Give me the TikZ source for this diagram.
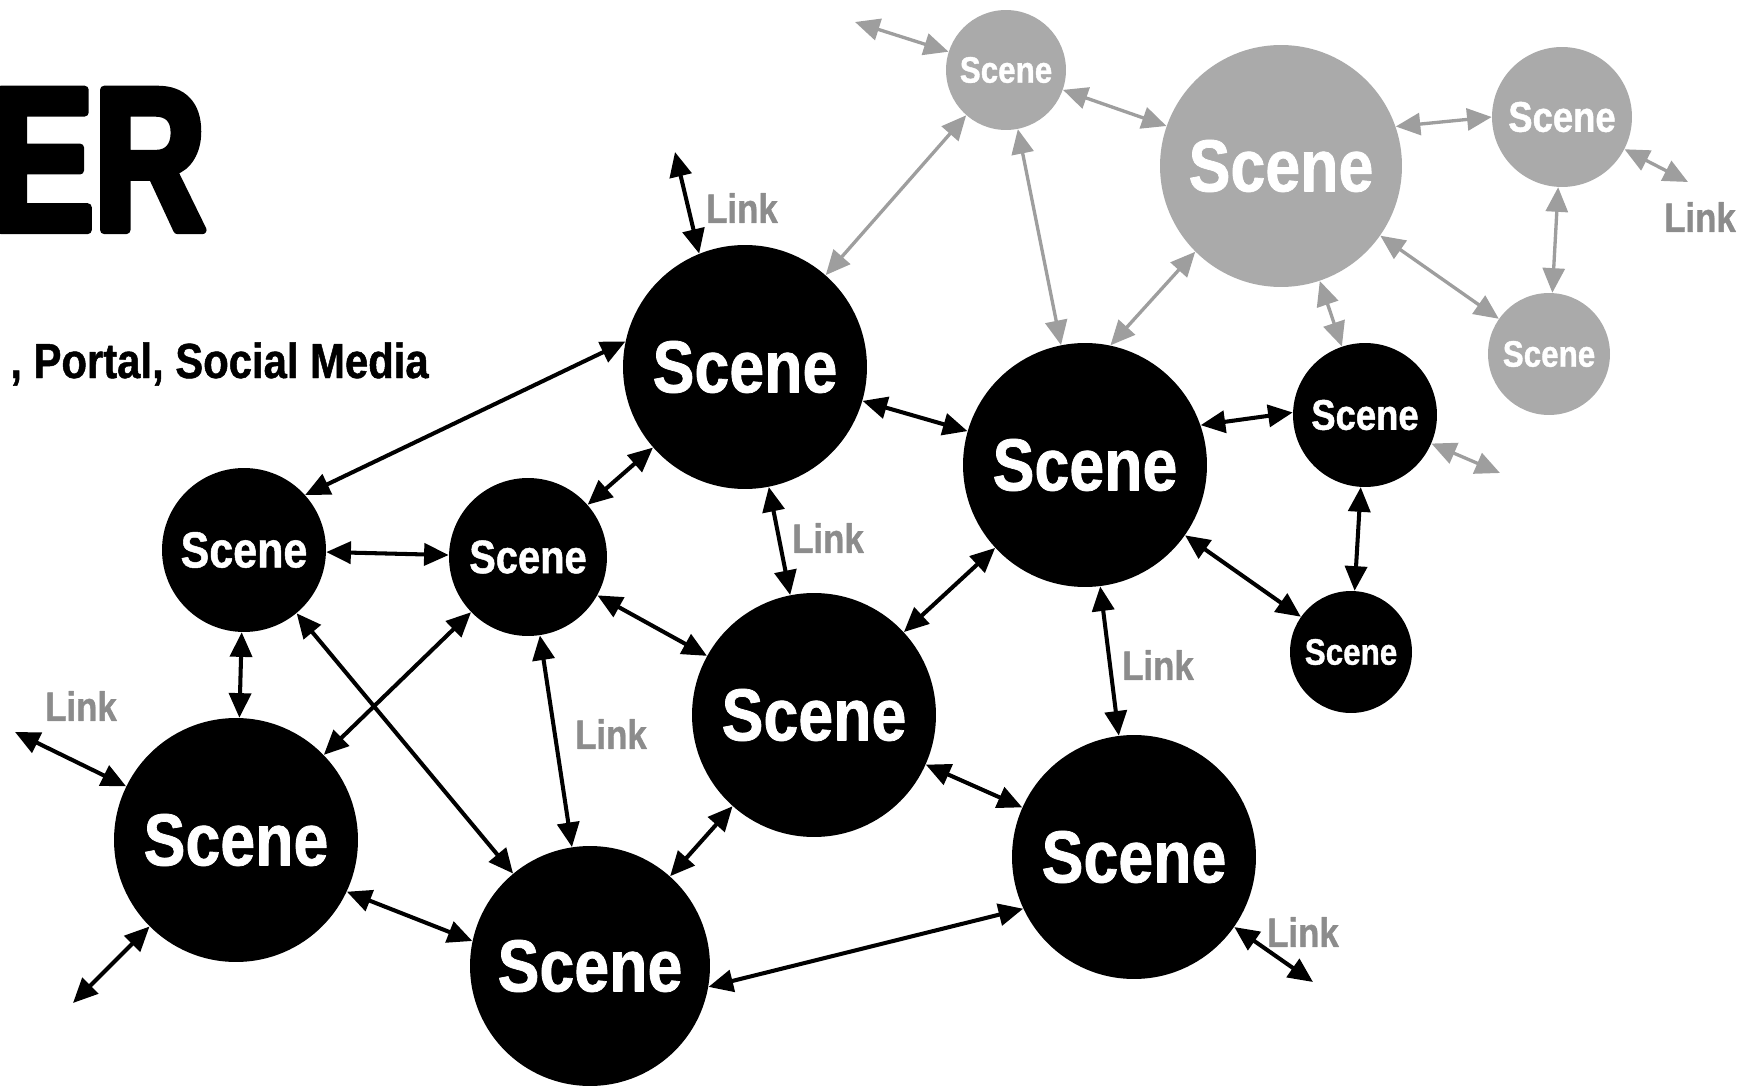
\documentclass[tikz,border=0pt]{standalone}
\usepackage{fontspec}
\usepackage{xcolor}
\usepackage{tikz}
\usetikzlibrary{arrows.meta}
\newfontfamily\scn[FakeStretch=0.85,FakeBold=1]{Liberation Sans Bold}
\newfontfamily\ttl[FakeStretch=0.76,FakeBold=4]{Liberation Sans Bold}
\definecolor{lgray}{RGB}{170,170,170}
\definecolor{agray}{RGB}{158,158,158}
\definecolor{tgray}{RGB}{140,140,140}

\begin{document}
\begin{tikzpicture}[x=0.02cm,y=-0.02cm,line cap=round,line join=round,
  >={Triangle[length=14pt,width=12.5pt]},
  sc/.style 2 args={circle,fill=black,text=white,inner sep=0pt,minimum size=#1,font=\scn\fontsize{#2}{#2}\selectfont},
  gsc/.style 2 args={sc={#1}{#2},fill=lgray},
  lk/.style={<->,line width=2.3pt},
  glk/.style={<->,line width=1.9pt,color=agray},
  lbl/.style={inner sep=0pt,text=tgray,font=\scn\fontsize{23.3}{24}\selectfont}]
\useasboundingbox (0,0) rectangle (1742,1091);

\node[anchor=base east,inner sep=0pt,font=\ttl\fontsize{116}{116}\selectfont] (T) at (206,230) {ER};
\node[anchor=base east,inner sep=0pt,font=\scn\fontsize{28}{30}\selectfont] (U) at (429,378) {, Portal, Social Media};

% black scenes
\node[sc={3.28cm}{28.8}] (A) at (244,550) {Scene};
\node[sc={3.16cm}{26.7}] (B) at (528,557) {Scene};
\node[sc={4.88cm}{42}] (C) at (745,367) {Scene};
\node[sc={4.88cm}{42}] (D) at (814,715) {Scene};
\node[sc={4.88cm}{42}] (E) at (236,840) {Scene};
\node[sc={4.80cm}{42}] (F) at (590,966) {Scene};
\node[sc={4.88cm}{42}] (G) at (1085,465) {Scene};
\node[sc={4.88cm}{42}] (H) at (1134,857) {Scene};
\node[sc={2.88cm}{24.4}] (I) at (1365,415) {Scene};
\node[sc={2.44cm}{21}] (J) at (1351,652) {Scene};
% grey scenes
\node[gsc={2.40cm}{21}] (K) at (1006,70) {Scene};
\node[gsc={4.84cm}{42}] (L) at (1281,166) {Scene};
\node[gsc={2.80cm}{24.4}] (M) at (1562,117) {Scene};
\node[gsc={2.44cm}{21}] (N) at (1549,354) {Scene};

\coordinate (a) at (675,152); \coordinate (b) at (15,732); \coordinate (c) at (73,1003);
\coordinate (d) at (1313,982); \coordinate (e) at (855,22); \coordinate (f) at (1688,182);
\coordinate (g) at (1500,473);

\draw[lk] (A.42) -- (C.168);
\draw[lk] (A) -- (B);
\draw[lk] (A) -- (E);
\draw[lk] (A) -- (F);
\draw[lk] (B) -- (C);
\draw[lk] (B) -- (E);
\draw[lk] (B) -- (D);
\draw[lk] (B) -- (F);
\draw[lk] (C) -- (D);
\draw[lk] (C) -- (G);
\draw[lk] (D) -- (G);
\draw[lk] (D) -- (F);
\draw[lk] (D) -- (H);
\draw[lk] (E.-25) -- (F.168);
\draw[lk] (F.-10) -- (H.205);
\draw[lk] (G) -- (H);
\draw[lk] (G.19) -- (I.178);
\draw[lk] (G) -- (J);
\draw[lk] (I) -- (J);
\draw[lk] (C.112) -- (a);
\draw[lk] (E) -- (b);
\draw[lk] (E) -- (c);
\draw[lk] (H) -- (d);
% links to the grey part
\draw[glk] (C) -- (K);
\draw[glk] (G) -- (K);
\draw[glk] (G.78) -- (L.225);
\draw[glk] (K) -- (L);
\draw[glk] (L.19) -- (M.180);
\draw[glk] (L) -- (N);
\draw[glk] (M) -- (N);
\draw[glk] (L) -- (I);
\draw[glk] (K) -- (e);
\draw[glk] (M) -- (f);
\draw[glk] (I) -- (g);

\node[lbl] (t1) at (742,208) {Link};
\node[lbl] (t2) at (828,538) {Link};
\node[lbl] (t3) at (81,706) {Link};
\node[lbl] (t4) at (611,734) {Link};
\node[lbl] (t5) at (1158,665) {Link};
\node[lbl] (t6) at (1303,932) {Link};
\node[lbl] (t7) at (1700,217) {Link};
\end{tikzpicture}
\end{document}
